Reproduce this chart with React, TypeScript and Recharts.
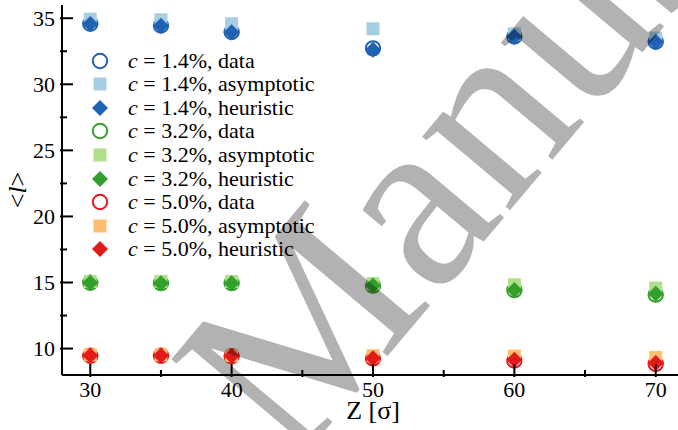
import React from 'react';
import { ScatterChart, Scatter, XAxis, YAxis, Legend, Label } from 'recharts';

const Z = [30, 35, 40, 50, 60, 70];

const blueData = [34.58, 34.45, 33.96, 32.72, 33.62, 33.22];
const blueAsym = [34.93, 34.88, 34.58, 34.2, 33.82, 33.5];
const blueHeur = [34.56, 34.43, 33.93, 32.62, 33.6, 33.2];

const greenData = [14.98, 14.95, 14.95, 14.76, 14.42, 14.08];
const greenAsym = [15.08, 15.08, 15.08, 14.91, 14.83, 14.58];
const greenHeur = [14.98, 14.95, 14.95, 14.77, 14.44, 14.14];

const redData = [9.46, 9.46, 9.42, 9.25, 9.1, 8.84];
const redAsym = [9.52, 9.52, 9.46, 9.46, 9.43, 9.33];
const redHeur = [9.47, 9.47, 9.44, 9.27, 9.15, 8.9];

const xTicks = [30, 35, 40, 45, 50, 55, 60, 65, 70];
const yTicks = [10, 12.5, 15, 17.5, 20, 22.5, 25, 27.5, 30, 32.5, 35];

const FONT = 'Liberation Serif, Times New Roman, Times, serif';

const toPoints = (vals: number[]) => Z.map((z, i) => ({ z, v: vals[i] }));

type Kind = 'data' | 'asym' | 'heur';

const series: { name: string; conc: string; kind: Kind; color: string; vals: number[] }[] = [
  { name: 'c14data', conc: '1.4%', kind: 'data', color: '#1f62b4', vals: blueData },
  { name: 'c14asym', conc: '1.4%', kind: 'asym', color: '#a6cee3', vals: blueAsym },
  { name: 'c14heur', conc: '1.4%', kind: 'heur', color: '#1f62b4', vals: blueHeur },
  { name: 'c32data', conc: '3.2%', kind: 'data', color: '#33a02c', vals: greenData },
  { name: 'c32asym', conc: '3.2%', kind: 'asym', color: '#b2df8a', vals: greenAsym },
  { name: 'c32heur', conc: '3.2%', kind: 'heur', color: '#33a02c', vals: greenHeur },
  { name: 'c50data', conc: '5.0%', kind: 'data', color: '#e31a1c', vals: redData },
  { name: 'c50asym', conc: '5.0%', kind: 'asym', color: '#fdbf6f', vals: redAsym },
  { name: 'c50heur', conc: '5.0%', kind: 'heur', color: '#e31a1c', vals: redHeur },
];

const kindLabel: Record<Kind, string> = { data: 'data', asym: 'asymptotic', heur: 'heuristic' };

const Marker = ({ kind, color, cx, cy }: { kind: Kind; color: string; cx: number; cy: number }) => {
  if (kind === 'data') {
    return <circle cx={cx} cy={cy} r={7.2} fill="none" stroke={color} strokeWidth={2} />;
  }
  if (kind === 'asym') {
    return <rect x={cx - 6.5} y={cy - 6.5} width={13} height={13} fill={color} />;
  }
  return (
    <polygon
      points={`${cx},${cy - 8} ${cx + 8},${cy} ${cx},${cy + 8} ${cx - 8},${cy}`}
      fill={color}
    />
  );
};

const makeShape = (kind: Kind, color: string) => (props: any) => (
  <Marker kind={kind} color={color} cx={props.cx} cy={props.cy} />
);

const BottomTick = (props: any) => {
  const { x, y, payload } = props;
  const major = payload.value % 10 === 0;
  return (
    <g>
      <line x1={x} y1={y} x2={x} y2={y - (major ? 13 : 7)} stroke="#000" strokeWidth={2} />
      {major && (
        <text x={x} y={y + 20} textAnchor="middle" fontFamily={FONT} fontSize={22} fill="#000">
          {payload.value}
        </text>
      )}
    </g>
  );
};

const TopTick = (props: any) => {
  const { x, y, payload } = props;
  const major = payload.value % 10 === 0;
  return <line x1={x} y1={y} x2={x} y2={y + (major ? 13 : 7)} stroke="#000" strokeWidth={2} />;
};

const LeftTick = (props: any) => {
  const { x, y, payload } = props;
  const major = payload.value % 5 === 0;
  return (
    <g>
      <line x1={x} y1={y} x2={x + (major ? 13 : 7)} y2={y} stroke="#000" strokeWidth={2} />
      {major && (
        <text x={x - 5} y={y + 7.5} textAnchor="end" fontFamily={FONT} fontSize={22} fill="#000">
          {payload.value}
        </text>
      )}
    </g>
  );
};

const RightTick = (props: any) => {
  const { x, y, payload } = props;
  const major = payload.value % 5 === 0;
  return <line x1={x} y1={y} x2={x - (major ? 13 : 7)} y2={y} stroke="#000" strokeWidth={2} />;
};

const LegendContent = () => (
  <div style={{ fontFamily: FONT, fontSize: 22, color: '#000' }}>
    {series.map((s) => (
      <div key={s.name} style={{ display: 'flex', alignItems: 'center', height: 23.6, whiteSpace: 'nowrap' }}>
        <svg width={24} height={22} style={{ display: 'block' }}>
          <Marker kind={s.kind} color={s.color} cx={12} cy={11} />
        </svg>
        <span style={{ marginLeft: 16.3, lineHeight: '22px' }}>
          <i>c</i> = {s.conc}, {kindLabel[s.kind]}
        </span>
      </div>
    ))}
  </div>
);

const WM_X = 292;
const WM_Y = 470;

export default function App() {
  return (
    <div style={{ position: 'absolute', left: 0, top: 0, width: 678, height: 430, overflow: 'hidden', background: '#fff' }}>
      <ScatterChart width={700} height={430} margin={{ top: 5, right: 16, bottom: 0, left: 0 }}>
        {series.map((s) => (
          <Scatter
            key={s.name}
            name={s.name}
            data={toPoints(s.vals)}
            xAxisId="b"
            yAxisId="l"
            dataKey="v"
            fill={s.color}
            shape={makeShape(s.kind, s.color)}
            isAnimationActive={false}
          />
        ))}
        <XAxis
          xAxisId="b"
          dataKey="z"
          type="number"
          domain={[28, 72]}
          ticks={xTicks}
          allowDataOverflow
          height={55}
          tickSize={0}
          tickLine={false}
          axisLine={{ stroke: '#000', strokeWidth: 2 }}
          tick={<BottomTick />}
          interval={0}
        >
          <Label
            content={(p: any) => {
              const vb = p.viewBox || {};
              return (
                <text x={vb.x + vb.width / 2} y={vb.y + 44} textAnchor="middle" fontFamily={FONT} fontSize={26} fill="#000">
                  Z [σ]
                </text>
              );
            }}
          />
        </XAxis>
        <XAxis
          xAxisId="t"
          orientation="top"
          dataKey="z"
          type="number"
          domain={[28, 72]}
          ticks={xTicks}
          allowDataOverflow
          height={0}
          tickSize={0}
          tickLine={false}
          axisLine={{ stroke: '#000', strokeWidth: 2 }}
          tick={<TopTick />}
          interval={0}
        />
        <YAxis
          yAxisId="l"
          dataKey="v"
          type="number"
          domain={[8, 36]}
          ticks={yTicks}
          allowDataOverflow
          width={62}
          tickSize={0}
          tickLine={false}
          axisLine={{ stroke: '#000', strokeWidth: 2 }}
          tick={<LeftTick />}
          interval={0}
        >
          <Label
            content={(p: any) => {
              const vb = p.viewBox || {};
              const cx = 26;
              const cy = vb.y + vb.height / 2;
              return (
                <text x={cx} y={cy} transform={`rotate(-90, ${cx}, ${cy})`} textAnchor="middle" fontFamily={FONT} fontSize={26} fill="#000">
                  &lt;<tspan fontStyle="italic">l</tspan>&gt;
                </text>
              );
            }}
          />
        </YAxis>
        <YAxis
          yAxisId="r"
          orientation="right"
          dataKey="v"
          type="number"
          domain={[8, 36]}
          ticks={yTicks}
          allowDataOverflow
          width={0}
          tickSize={0}
          tickLine={false}
          axisLine={{ stroke: '#000', strokeWidth: 2 }}
          tick={<RightTick />}
          interval={0}
        />
        <Legend
          content={<LegendContent />}
          layout="vertical"
          verticalAlign="middle"
          align="center"
          wrapperStyle={{ position: 'absolute', left: 87.7, top: 48.9, width: 'auto', height: 'auto' }}
        />
      </ScatterChart>
      <svg width={678} height={430} style={{ position: 'absolute', left: 0, top: 0, pointerEvents: 'none' }}>
        <text
          x={WM_X}
          y={WM_Y}
          transform={`rotate(-50, ${WM_X}, ${WM_Y})`}
          fontFamily={FONT}
          fontSize={250}
          fill="#000"
          fillOpacity={0.3}
        >
          Manuscript
        </text>
      </svg>
    </div>
  );
}
